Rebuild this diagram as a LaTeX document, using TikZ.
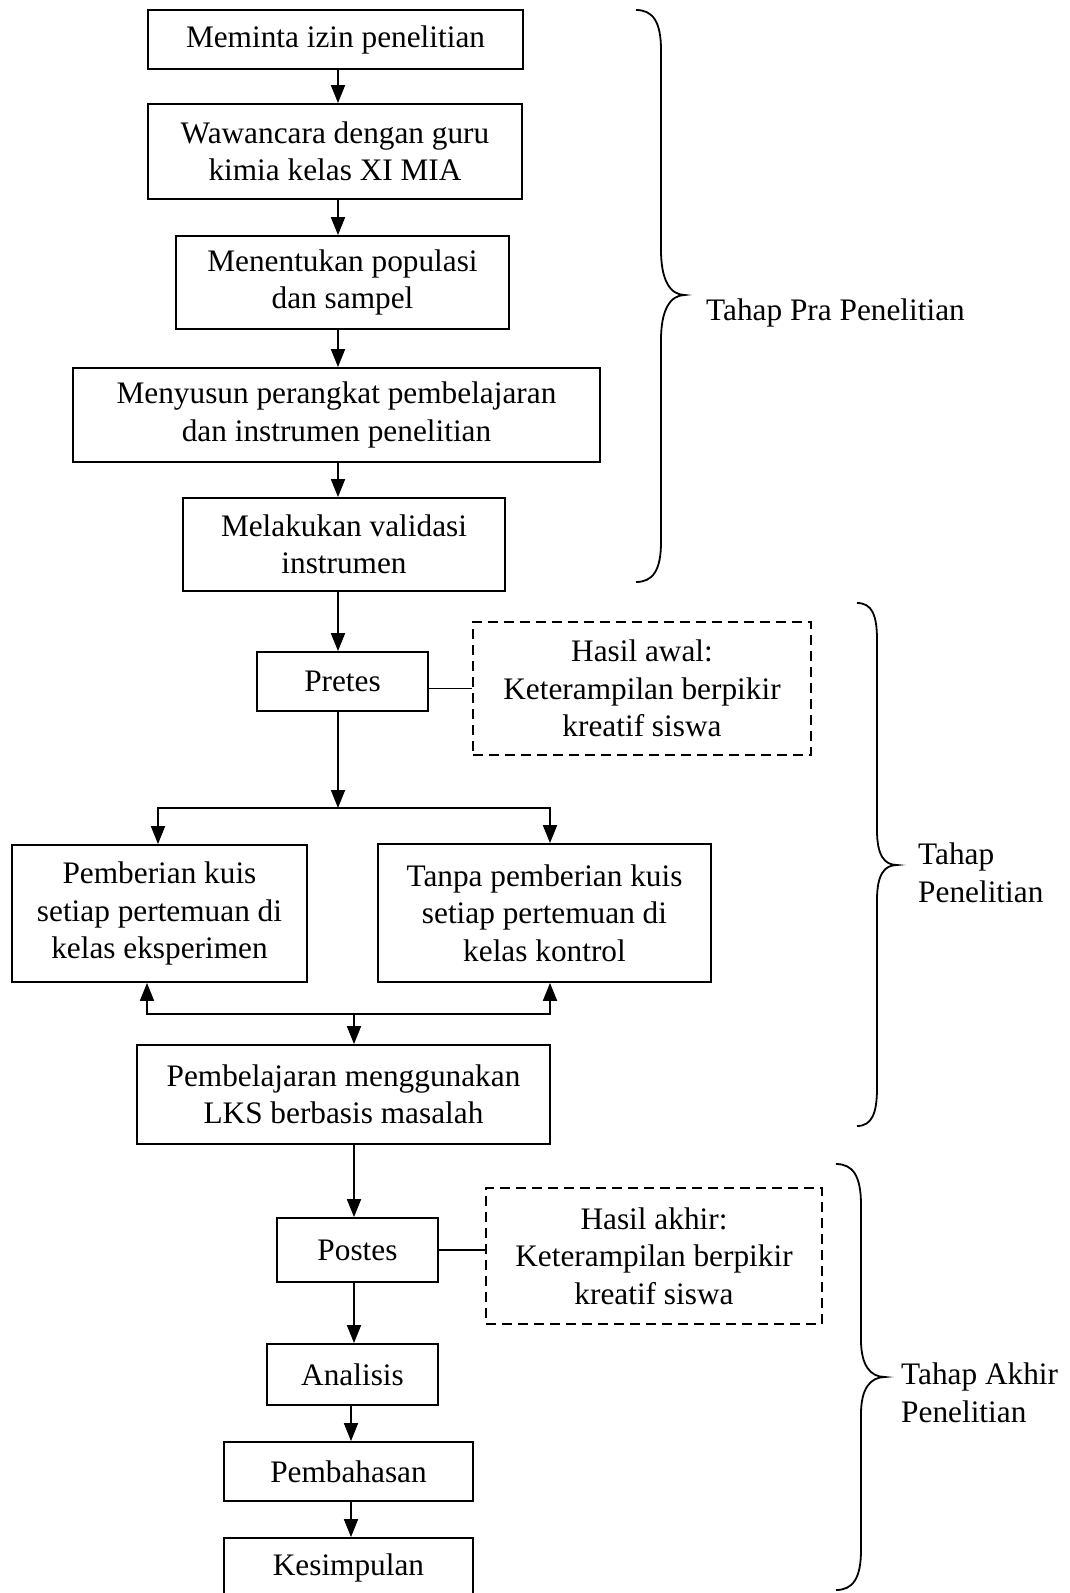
\documentclass[tikz,border=0pt]{standalone}
\usepackage{fontspec}
\setmainfont{Liberation Serif}
\usetikzlibrary{arrows.meta}
\newcommand\fsz{\fontsize{31.3}{37.5}\selectfont}
\begin{document}
\begin{tikzpicture}[x=1pt,y=-1pt,
  box/.style={draw, line width=1.8pt, align=center, inner sep=0pt, font=\fsz},
  dbox/.style={box, dash pattern=on 10pt off 6pt, line width=2pt},
  arr/.style={line width=1.8pt, -{Triangle[length=18pt,width=14pt]}},
  ln/.style={line width=1.8pt},
  bracestyle/.style={line width=1.8pt},
  lbl/.style={font=\fsz, align=left, inner sep=0pt}]
\useasboundingbox (0,0) rectangle (1070,1593);
% pra penelitian
\node[box, minimum width=375pt, minimum height=59pt] (n1) at (335.5,39.5) {Meminta izin penelitian};
\node[box, minimum width=374pt, minimum height=95pt] (n2) at (335,151.5) {Wawancara dengan guru\\kimia kelas XI MIA};
\node[box, minimum width=333pt, minimum height=93pt] (n3) at (342.5,282.5) {Menentukan populasi\\dan sampel};
\node[box, minimum width=527pt, minimum height=94pt] (n4) at (336.5,415) {Menyusun perangkat pembelajaran\\dan instrumen penelitian};
\node[box, minimum width=322pt, minimum height=93pt] (n5) at (344,544.5) {Melakukan validasi\\instrumen};
% penelitian
\node[box, minimum width=171pt, minimum height=59pt] (pretes) at (342.5,681.5) {Pretes};
\node[dbox, minimum width=338pt, minimum height=133pt] (awal) at (642,688.5) {Hasil awal:\\Keterampilan berpikir\\kreatif siswa};
\node[box, minimum width=295pt, minimum height=137pt] (eksp) at (159.5,913.5) {Pemberian kuis\\setiap pertemuan di\\kelas eksperimen};
\node[box, minimum width=333pt, minimum height=138pt] (kont) at (544.5,913) {Tanpa pemberian kuis\\setiap pertemuan di\\kelas kontrol};
\node[box, minimum width=413pt, minimum height=99pt] (lks) at (343.5,1094.5) {Pembelajaran menggunakan\\LKS berbasis masalah};
% akhir
\node[box, minimum width=161pt, minimum height=64pt] (postes) at (357.5,1250) {Postes};
\node[dbox, minimum width=336pt, minimum height=136pt] (akhir) at (654,1256) {Hasil akhir:\\Keterampilan berpikir\\kreatif siswa};
\node[box, minimum width=171pt, minimum height=61pt] (analisis) at (352.5,1374.5) {Analisis};
\node[box, minimum width=249pt, minimum height=59pt] (bahas) at (348.5,1471.5) {Pembahasan};
\node[box, minimum width=249pt, minimum height=59pt] (simpul) at (348.5,1567.5) {Kesimpulan};
% axes
\coordinate (ax1) at (338,0);
\coordinate (ax2) at (354,0);
\coordinate (ax3) at (351,0);
\draw[arr] (n1.south -| ax1) -- (n2.north -| ax1);
\draw[arr] (n2.south -| ax1) -- (n3.north -| ax1);
\draw[arr] (n3.south -| ax1) -- (n4.north -| ax1);
\draw[arr] (n4.south -| ax1) -- (n5.north -| ax1);
\draw[arr] (n5.south -| ax1) -- (pretes.north -| ax1);
\draw[ln] (awal.west -| pretes.east) -- (awal.west);
% split
\coordinate (s1) at (338,808);
\coordinate (sl) at (158,808);
\coordinate (sr) at (550,808);
\draw[arr] (pretes.south -| s1) -- (s1);
\draw[arr] (s1) -- (sl) -- (eksp.north -| sl);
\draw[arr] (s1) -- (sr) -- (kont.north -| sr);
% merge
\coordinate (mm) at (354,1014);
\coordinate (ml) at (147,1014);
\coordinate (mr) at (550,1014);
\draw[arr] (mm) -- (ml) -- (eksp.south -| ml);
\draw[arr] (mm) -- (mr) -- (kont.south -| mr);
\draw[arr] (mm) -- (lks.north -| mm);
\draw[arr] (lks.south -| ax2) -- (postes.north -| ax2);
\draw[ln] (postes.east) -- (postes.east -| akhir.west);
\draw[arr] (postes.south -| ax2) -- (analisis.north -| ax2);
\draw[arr] (analisis.south -| ax3) -- (bahas.north -| ax3);
\draw[arr] (bahas.south -| ax3) -- (simpul.north -| ax3);
% braces
\draw[bracestyle] (636,10) .. controls (653,10) and (661,22) .. (661,50) -- (661,250)
  .. controls (661,280) and (670,295) .. (685,295)
  .. controls (670,295) and (661,310) .. (661,340) -- (661,542)
  .. controls (661,570) and (653,582) .. (636,582);
\node[lbl, anchor=base west] (lab1) at (706,320) {Tahap Pra Penelitian};
\draw[bracestyle] (857,603) .. controls (872,603) and (877,615) .. (877,640) -- (877,830)
  .. controls (877,855) and (884,865) .. (897,865)
  .. controls (884,865) and (877,875) .. (877,900) -- (877,1088)
  .. controls (877,1113) and (872,1126) .. (857,1126);
\node[lbl, anchor=west] (lab2) at (918,873) {Tahap\\Penelitian};
\draw[bracestyle] (836,1164) .. controls (853,1164) and (861,1176) .. (861,1205) -- (861,1340)
  .. controls (861,1365) and (870,1377) .. (885,1377)
  .. controls (870,1377) and (861,1389) .. (861,1414) -- (861,1550)
  .. controls (861,1578) and (853,1590) .. (836,1590);
\node[lbl, anchor=west] (lab3) at (901,1393) {Tahap Akhir\\Penelitian};
\end{tikzpicture}
\end{document}
